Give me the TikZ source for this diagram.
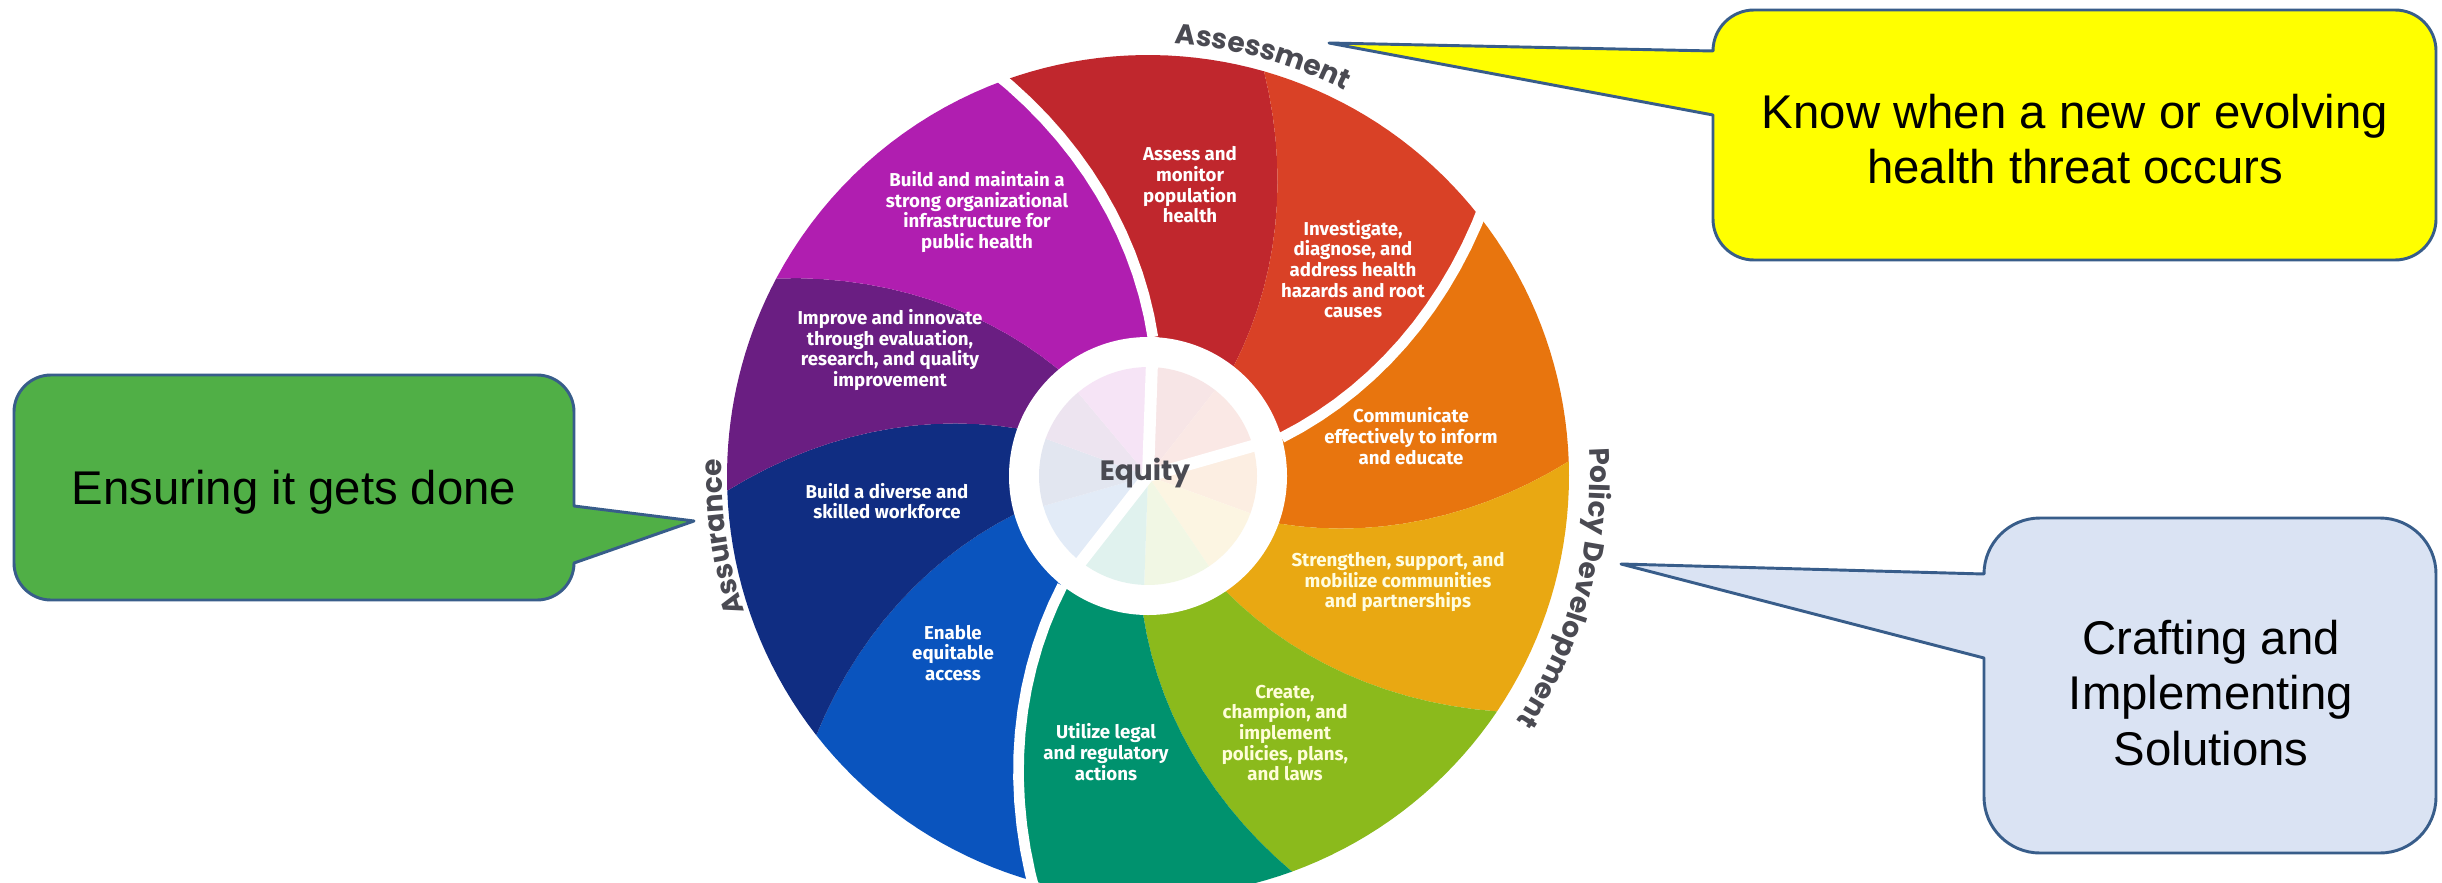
\documentclass[tikz,border=0pt]{standalone}
\usepackage{fontspec}
\setmainfont{Liberation Sans}
\newfontfamily\labelfont{Poppins}
\newfontfamily\segfont{Fira Sans}
\usetikzlibrary{decorations.text}

\definecolor{assesscol}{RGB}{192,39,45}
\definecolor{investcol}{RGB}{217,65,38}
\definecolor{commcol}{RGB}{232,117,14}
\definecolor{strengthcol}{RGB}{233,168,18}
\definecolor{createcol}{RGB}{139,186,28}
\definecolor{legalcol}{RGB}{0,146,110}
\definecolor{accesscol}{RGB}{10,84,190}
\definecolor{workcol}{RGB}{16,45,130}
\definecolor{improvecol}{RGB}{106,30,130}
\definecolor{infracol}{RGB}{176,30,176}
\definecolor{labelgray}{RGB}{74,74,82}
\definecolor{calloutedge}{RGB}{56,93,138}
\definecolor{knowyellow}{RGB}{255,255,0}
\definecolor{ensuregreen}{RGB}{80,175,70}
\definecolor{craftblue}{RGB}{218,227,243}

\newcommand{\wcx}{1148}
\newcommand{\wcy}{476}
\newcommand{\wri}{139}
\newcommand{\wro}{421}
\newcommand{\wtw}{22}
\newcommand{\labfont}{\labelfont\bfseries\fontsize{21}{25}\selectfont}

% coloured part of the wheel between ring angles #1 and #2
\newcommand{\wheelpart}[3]{%
  \fill[#3] (\wcx,\wcy)
    -- plot[domain=0:1,samples=15] ({\wcx+(\wri+(\wro-\wri)*\x)*cos(#1-\wtw*\x)},{\wcy+(\wri+(\wro-\wri)*\x)*sin(#1-\wtw*\x)})
    -- plot[domain=#1-\wtw:#2-\wtw,samples=20] ({\wcx+\wro*cos(\x)},{\wcy+\wro*sin(\x)})
    -- plot[domain=0:1,samples=15] ({\wcx+(\wro-(\wro-\wri)*\x)*cos(#2-\wtw*(1-\x))},{\wcy+(\wro-(\wro-\wri)*\x)*sin(#2-\wtw*(1-\x))})
    -- cycle;}
% pale part of the centre disc
\newcommand{\innerpart}[3]{%
  \fill[#3!12] (\wcx,\wcy) -- plot[domain=#1:#2,samples=10] ({\wcx+109*cos(\x)},{\wcy+109*sin(\x)}) -- cycle;}

\begin{document}
\begin{tikzpicture}[x=0.75pt,y=0.75pt,yscale=-1,xscale=1,
  parttext/.style={text=white, align=center, font=\segfont\bfseries\fontsize{14}{15.5}\selectfont},
  callouttext/.style={align=center, font=\fontsize{35.5}{41.5}\selectfont},
  calloutline/.style={draw=calloutedge, line width=2.2pt, line join=round},
  wheelgap/.style={white, line width=8pt}]

\useasboundingbox (0,0) rectangle (2442,882);
\fill[white] (0,0) rectangle (2442,882);

% wheel
\wheelpart{-88}{-52}{assesscol}
\wheelpart{-52}{-16}{investcol}
\wheelpart{-16}{20}{commcol}
\wheelpart{20}{56}{strengthcol}
\wheelpart{56}{92}{createcol}
\wheelpart{92}{128}{legalcol}
\wheelpart{128}{164}{accesscol}
\wheelpart{164}{200}{workcol}
\wheelpart{200}{230}{improvecol}
\wheelpart{230}{272}{infracol}

\draw[wheelgap] plot[domain=0:1.05,samples=15] ({\wcx+(\wri+(\wro-\wri)*\x)*cos(-88-\wtw*\x)},{\wcy+(\wri+(\wro-\wri)*\x)*sin(-88-\wtw*\x)});
\draw[wheelgap] plot[domain=0:1.05,samples=15] ({\wcx+(\wri+(\wro-\wri)*\x)*cos(-16-\wtw*\x)},{\wcy+(\wri+(\wro-\wri)*\x)*sin(-16-\wtw*\x)});
\draw[wheelgap] plot[domain=0:1.05,samples=15] ({\wcx+(\wri+(\wro-\wri)*\x)*cos(128-\wtw*\x)},{\wcy+(\wri+(\wro-\wri)*\x)*sin(128-\wtw*\x)});

% centre
\fill[white] (\wcx,\wcy) circle (139);
\innerpart{-88}{-52}{assesscol}
\innerpart{-52}{-16}{investcol}
\innerpart{-16}{20}{commcol}
\innerpart{20}{56}{strengthcol}
\innerpart{56}{92}{createcol}
\innerpart{92}{128}{legalcol}
\innerpart{128}{164}{accesscol}
\innerpart{164}{200}{workcol}
\innerpart{200}{230}{improvecol}
\innerpart{230}{272}{infracol}
\draw[white, line width=9pt] (\wcx,\wcy) -- ++(-88:139);
\draw[white, line width=9pt] (\wcx,\wcy) -- ++(-16:139);
\draw[white, line width=9pt] (\wcx,\wcy) -- ++(128:139);

\node[font=\labfont, text=labelgray] (equity) at (1145,473) {Equity};

\node[parttext] (assess) at (1190,185) {Assess and\\monitor\\population\\health};
\node[parttext] (investigate) at (1353,269) {Investigate,\\diagnose, and\\address health\\hazards and root\\causes};
\node[parttext] (communicate) at (1411,436) {Communicate\\effectively to inform\\and educate};
\node[parttext, text=yellow!12] (strengthen) at (1398,582) {Strengthen, support, and\\mobilize communities\\and partnerships};
\node[parttext, text=yellow!15] (create) at (1285,733) {Create,\\champion, and\\implement\\policies, plans,\\and laws};
\node[parttext] (utilize) at (1106,752) {Utilize legal\\and regulatory\\actions};
\node[parttext] (enable) at (953,653) {Enable\\equitable\\access};
\node[parttext] (workforce) at (887,501) {Build a diverse and\\skilled workforce};
\node[parttext] (improve) at (890,350) {Improve and innovate\\through evaluation,\\research, and quality\\improvement};
\node[parttext] (infrastructure) at (977,212) {Build and maintain a\\strong organizational\\infrastructure for\\public health};

% group labels round the wheel
\begin{scope}[yscale=-1]
\path[decorate, decoration={text along path, text={|\labfont|Assessment}, text align=center, text color=labelgray}]
  (\wcx,-\wcy) ++(100:433) arc[start angle=100, end angle=49.4, radius=433];
\path[decorate, decoration={text along path, text={|\labfont|Policy Development}, text align=center, text color=labelgray}]
  (\wcx,-\wcy) ++(20:442) arc[start angle=20, end angle=-50, radius=442];
\path[decorate, decoration={text along path, text={|\labfont|Assurance}, text align=center, text color=labelgray}]
  (\wcx,-\wcy) ++(213:426) arc[start angle=213, end angle=163.4, radius=426];
\end{scope}

% callouts
\coordinate (asstip) at (1329,43);
\coordinate (assutip) at (694,521);
\coordinate (policytip) at (1621,564);

\draw[calloutline, fill=knowyellow] (asstip) -- (1713,51) arc[start angle=180,end angle=270,radius=41] -- (2395,10) arc[start angle=270,end angle=360,radius=41] -- (2436,219) arc[start angle=0,end angle=90,radius=41] -- (1754,260) arc[start angle=90,end angle=180,radius=41] -- (1713,115) -- cycle;
\node[callouttext] (knowtext) at (2075,139) {Know when a new or evolving\\health threat occurs};

\draw[calloutline, fill=ensuregreen] (assutip) -- (574,563) arc[start angle=0,end angle=90,radius=37] -- (51,600) arc[start angle=90,end angle=180,radius=37] -- (14,412) arc[start angle=180,end angle=270,radius=37] -- (537,375) arc[start angle=270,end angle=360,radius=37] -- (574,506) -- cycle;
\node[callouttext] (ensuretext) at (294,492) {Ensuring it gets done};

\draw[calloutline, fill=craftblue] (policytip) -- (1984,574) arc[start angle=180,end angle=270,radius=56] -- (2380,518) arc[start angle=270,end angle=360,radius=56] -- (2436,797) arc[start angle=0,end angle=90,radius=56] -- (2040,853) arc[start angle=90,end angle=180,radius=56] -- (1984,658) -- cycle;
\node[callouttext] (crafttext) at (2211,693) {Crafting and\\Implementing\\Solutions};

\end{tikzpicture}
\end{document}
